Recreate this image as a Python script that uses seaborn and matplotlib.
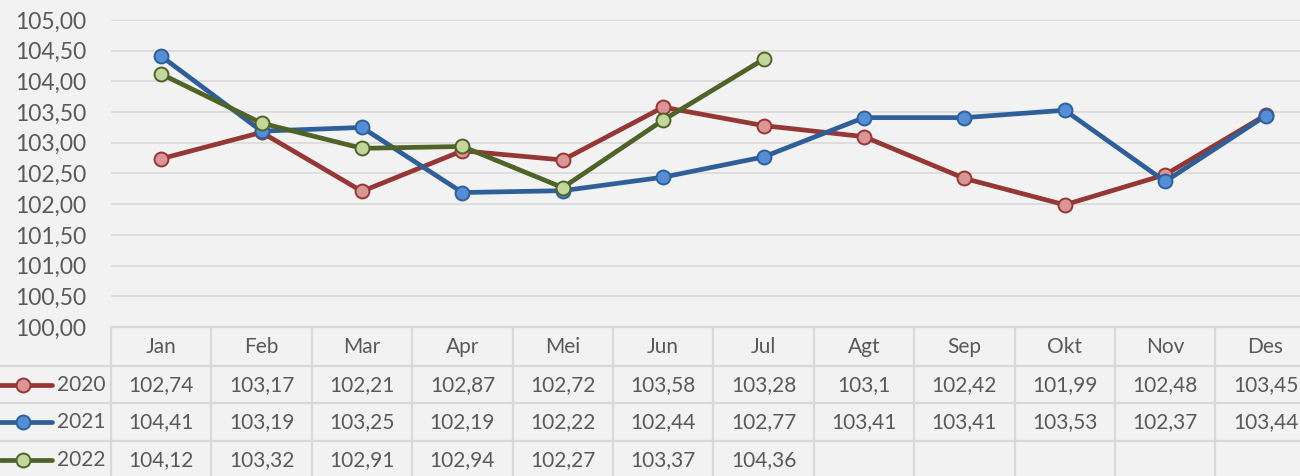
import numpy as np
import pandas as pd
import matplotlib
import matplotlib.pyplot as plt
import matplotlib.transforms as mtransforms
from matplotlib.lines import Line2D
import seaborn as sns

# Data
months = ['Jan', 'Feb', 'Mar', 'Apr', 'Mei', 'Jun', 'Jul', 'Agt', 'Sep', 'Okt', 'Nov', 'Des']
v2020 = [102.74, 103.17, 102.21, 102.87, 102.72, 103.58, 103.28, 103.1, 102.42, 101.99, 102.48, 103.45]
v2021 = [104.41, 103.19, 103.25, 102.19, 102.22, 102.44, 102.77, 103.41, 103.41, 103.53, 102.37, 103.44]
v2022 = [104.12, 103.32, 102.91, 102.94, 102.27, 103.37, 104.36]
years = ['2020', '2021', '2022']
yticks = [100.0, 100.5, 101.0, 101.5, 102.0, 102.5, 103.0, 103.5, 104.0, 104.5, 105.0]

# styles: line colour, marker face colour
styles = {
    '2020': ('#953735', '#d99694'),
    '2021': ('#2f5f98', '#558ed5'),
    '2022': ('#4f6228', '#c3d69b'),
}

sns.set_theme(style='white')
plt.rcParams['font.family'] = ['Lato', 'DejaVu Sans']
text_color = '#595959'
grid_color = '#d9d9d9'
bg = '#f2f2f2'

W, H = 1300, 476
fig = plt.figure(figsize=(W / 100, H / 100), dpi=100, facecolor=bg)
col_w = 100.4
left_px, top_px, bottom_px = 111, 20, 327
ax = fig.add_axes([left_px / W, 1 - bottom_px / H, (W - left_px) / W, (bottom_px - top_px) / H])
ax.set_facecolor(bg)

series = {'2020': v2020, '2021': v2021, '2022': v2022}
for yr in years:
    vals = series[yr]
    line_c, face_c = styles[yr]
    df = pd.DataFrame({'x': np.arange(len(vals)), 'y': vals})
    sns.lineplot(data=df, x='x', y='y', ax=ax, color=line_c, lw=3.4,
                 marker='o', markersize=10, markerfacecolor=face_c,
                 markeredgecolor=line_c, markeredgewidth=1.4, zorder=3)

ax.set_xlim(-0.5, -0.5 + (W - left_px) / col_w)
ax.set_ylim(100, 105)
ax.set_yticks(yticks)
ax.set_yticklabels([f'{t:.2f}'.replace('.', ',') for t in yticks])
ax.set_xticks([])
ax.set_xlabel('')
ax.set_ylabel('')
ax.grid(axis='y', color=grid_color, lw=1.2)
for s in ax.spines.values():
    s.set_visible(False)
ax.tick_params(axis='y', length=0, pad=18, labelsize=16.5, labelcolor=text_color)


def fy(px):
    return 1 - px / H


# Data table under the chart
trans = mtransforms.blended_transform_factory(ax.transData, fig.transFigure)
for i in range(len(months) + 1):
    ax.plot([i - 0.5, i - 0.5], [fy(327), fy(476)], transform=trans,
            color=grid_color, lw=1.6, clip_on=False)
fig.add_artist(Line2D([left_px / W, 1], [fy(327), fy(327)], transform=fig.transFigure,
                      color=grid_color, lw=1.6))
for y in [366, 403, 441]:
    fig.add_artist(Line2D([0, 1], [fy(y), fy(y)], transform=fig.transFigure,
                          color=grid_color, lw=1.6))

for i, m in enumerate(months):
    ax.text(i, fy(347), m, transform=trans, ha='center', va='center',
            fontsize=15, color=text_color, clip_on=False)

row_y = {'2020': 385, '2021': 422, '2022': 460}
for yr in years:
    vals = series[yr]
    yy = fy(row_y[yr])
    for i, v in enumerate(vals):
        label = f'{v:g}'.replace('.', ',')
        ax.text(i, yy, label, transform=trans, ha='center', va='center',
                fontsize=15, color=text_color, clip_on=False)
    line_c, face_c = styles[yr]
    fig.add_artist(Line2D([0, 52 / W], [yy, yy], transform=fig.transFigure,
                          color=line_c, lw=3.4, solid_capstyle='round'))
    fig.add_artist(Line2D([23 / W], [yy], transform=fig.transFigure, marker='o',
                          markersize=10, markerfacecolor=face_c, markeredgecolor=line_c,
                          markeredgewidth=1.4, linestyle='none'))
    fig.text(57 / W, yy, yr, ha='left', va='center', fontsize=15, color=text_color)

fig.savefig('out.png', dpi=100, facecolor=bg)
